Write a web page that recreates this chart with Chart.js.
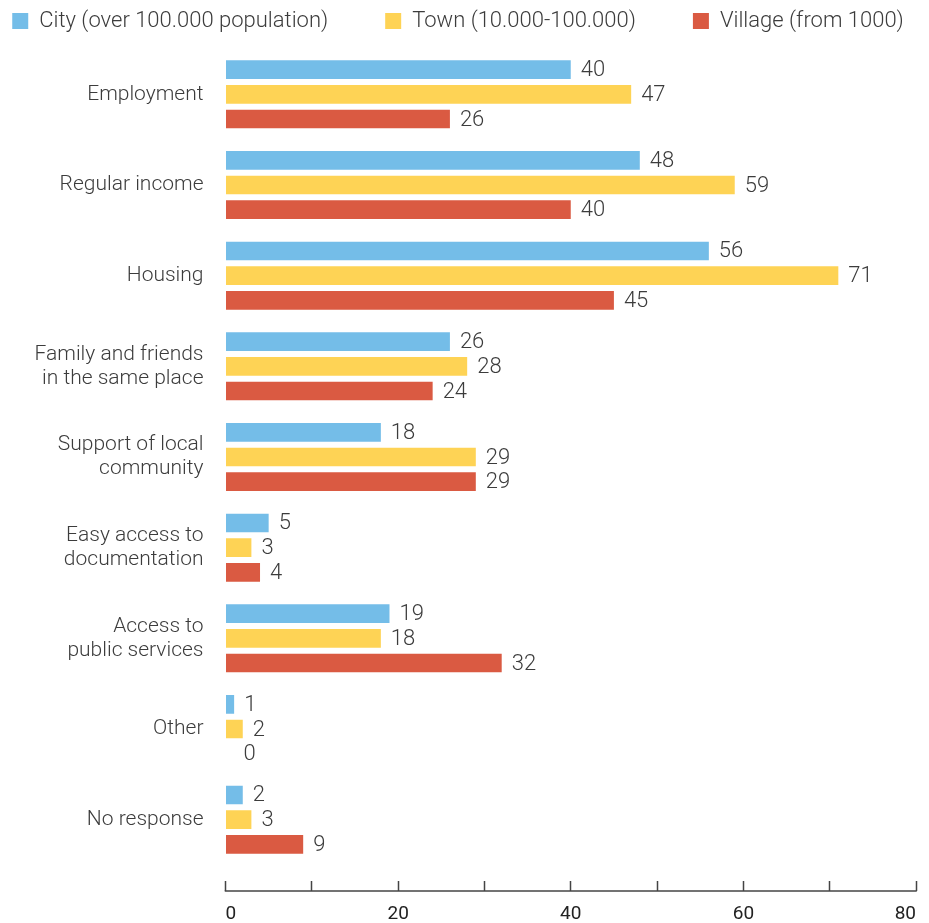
<!DOCTYPE html>
<html>
<head>
<meta charset="utf-8">
<script src="https://cdn.jsdelivr.net/npm/chart.js@4/dist/chart.umd.min.js"></script>
<style>
html,body{margin:0;padding:0;background:#fff;}
#wrap{width:929px;height:923px;}
</style>
</head>
<body>
<div id="wrap"><canvas id="c" width="929" height="923"></canvas></div>
<script>
const categories = [
  "Employment",
  "Regular income",
  "Housing",
  ["Family and friends", "in the same place"],
  ["Support of local", "community"],
  ["Easy access to", "documentation"],
  ["Access to", "public services"],
  "Other",
  "No response"
];
const seriesNames = ["City (over 100.000 population)", "Town (10.000-100.000)", "Village (from 1000)"];
const cityValues = [40, 48, 56, 26, 18, 5, 19, 1, 2];
const townValues = [47, 59, 71, 28, 29, 3, 18, 2, 3];
const villageValues = [26, 40, 45, 24, 29, 4, 32, 0, 9];
const xTicks = [0, 20, 40, 60, 80];

const colors = ["#74BDE8", "#FED355", "#DA5A42"];
const textColor = "#3c3c3c";
const FONT = "Roboto";
const TICK_GAP = 16;
const TICK_MARK = 10;
const LAYOUT_TOP = -47;
const LEGEND_H = 96;
const Y_AXIS_W = 225.5;
const X_AXIS_H = 58;

const valueLabels = {
  id: "valueLabels",
  afterDatasetsDraw(chart) {
    const ctx = chart.ctx;
    ctx.save();
    ctx.font = "300 22px " + FONT;
    ctx.fillStyle = textColor;
    ctx.textAlign = "left";
    ctx.textBaseline = "middle";
    chart.data.datasets.forEach((ds, i) => {
      const meta = chart.getDatasetMeta(i);
      meta.data.forEach((el, j) => {
        const v = ds.data[j];
        ctx.fillText(String(v), el.x + (v === 0 ? 18 : 10), el.y + 1);
      });
    });
    ctx.restore();
  }
};

const baseline = {
  id: "baseline",
  afterDraw(chart) {
    const ctx = chart.ctx;
    const xs = chart.scales.x;
    const y = chart.chartArea.bottom + TICK_GAP + TICK_MARK;
    ctx.save();
    ctx.strokeStyle = "#444";
    ctx.lineWidth = 1.5;
    ctx.beginPath();
    ctx.moveTo(xs.getPixelForValue(xTicks[0]) - 0.75, y);
    ctx.lineTo(xs.getPixelForValue(xTicks[xTicks.length - 1]) + 0.75, y);
    ctx.stroke();
    ctx.restore();
  }
};

// keep the legend on one row with wide gaps, and fix its height
const legendFit = {
  id: "legendFit",
  beforeLayout(chart) {
    const lg = chart.legend;
    if (lg && !lg._patched) {
      const origFit = lg.fit;
      lg.fit = function () {
        const mw = this.maxWidth;
        this.maxWidth = mw + 400;
        origFit.call(this);
        this.maxWidth = mw;
        this.width = mw;
        this.height = LEGEND_H;
      };
      const origDraw = lg.draw;
      lg.draw = function () {
        this.left -= 200;
        this.right += 200;
        origDraw.call(this);
        this.left += 200;
        this.right -= 200;
      };
      lg._patched = true;
    }
  }
};

new Chart(document.getElementById("c"), {
  type: "bar",
  data: {
    labels: categories,
    datasets: [
      { label: seriesNames[0], data: cityValues, backgroundColor: colors[0] },
      { label: seriesNames[1], data: townValues, backgroundColor: colors[1] },
      { label: seriesNames[2], data: villageValues, backgroundColor: colors[2] }
    ]
  },
  options: {
    indexAxis: "y",
    responsive: false,
    animation: false,
    devicePixelRatio: 1,
    layout: { padding: { left: 0, right: 13, top: LAYOUT_TOP, bottom: 0 } },
    datasets: {
      bar: { categoryPercentage: 0.817, barPercentage: 0.757 }
    },
    plugins: {
      legend: {
        display: true,
        position: "top",
        labels: {
          font: { family: FONT, size: 22, weight: "300" },
          color: textColor,
          boxWidth: 16,
          boxHeight: 16,
          padding: 57
        }
      },
      tooltip: { enabled: false }
    },
    scales: {
      x: {
        type: "linear",
        min: 0,
        max: 80,
        position: "bottom",
        border: { display: false },
        afterFit(scale) { scale.height = X_AXIS_H; },
        grid: {
          drawOnChartArea: false,
          drawTicks: true,
          tickLength: TICK_GAP + TICK_MARK,
          tickColor: "#444",
          tickWidth: 1.5,
          tickBorderDash: [0, TICK_GAP, TICK_MARK, 100]
        },
        ticks: {
          stepSize: 10,
          autoSkip: false,
          maxRotation: 0,
          align: "inner",
          padding: 12,
          color: "#222",
          font: { family: FONT, size: 19, weight: "400" },
          callback: (v) => (xTicks.includes(v) ? String(v) : "")
        }
      },
      y: {
        type: "category",
        border: { display: false },
        afterFit(scale) { scale.width = Y_AXIS_W; },
        grid: { display: false, drawTicks: false },
        ticks: {
          padding: 22,
          color: textColor,
          font: { family: FONT, size: 21, weight: "300", lineHeight: 1.15 }
        }
      }
    }
  },
  plugins: [legendFit, valueLabels, baseline]
});
</script>
</body>
</html>
